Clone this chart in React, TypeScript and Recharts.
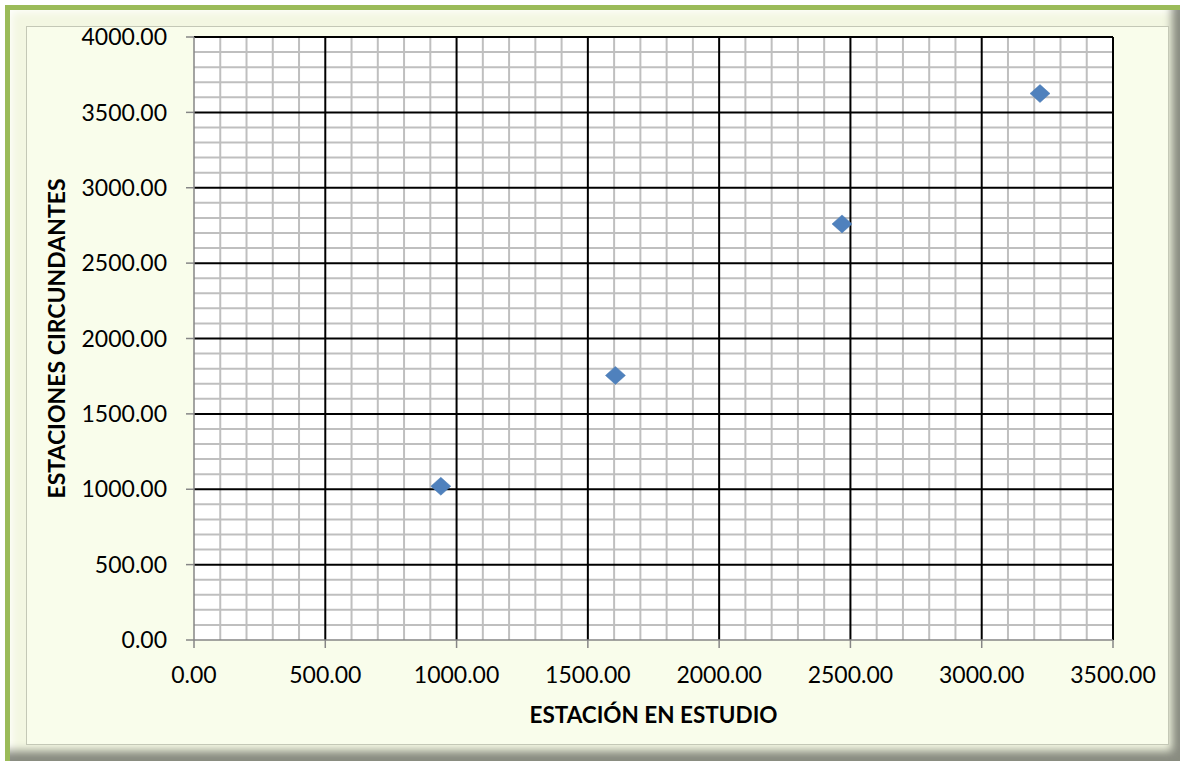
import { CartesianGrid, Scatter, ScatterChart, XAxis, YAxis } from "recharts";

// valores
const estacionEstudio = [940, 1605, 2468, 3222];
const estacionesCircundantes = [1020, 1755, 2760, 3625];

const ticksX = [0, 500, 1000, 1500, 2000, 2500, 3000, 3500];
const ticksY = [0, 500, 1000, 1500, 2000, 2500, 3000, 3500, 4000];
const menoresX = [100, 200, 300, 400, 600, 700, 800, 900, 1100, 1200, 1300, 1400, 1600, 1700, 1800, 1900, 2100, 2200, 2300, 2400, 2600, 2700, 2800, 2900, 3100, 3200, 3300, 3400];
const menoresY = [100, 200, 300, 400, 600, 700, 800, 900, 1100, 1200, 1300, 1400, 1600, 1700, 1800, 1900, 2100, 2200, 2300, 2400, 2600, 2700, 2800, 2900, 3100, 3200, 3300, 3400, 3600, 3700, 3800, 3900];

const datos = estacionEstudio.map((x, i) => ({ x, y: estacionesCircundantes[i] }));

const fuente = "Lato, 'Open Sans', sans-serif";
const fmt = (v: number) => v.toFixed(2);

function Rombo(props: any) {
  const { cx, cy } = props;
  if (cx == null || cy == null) return null;
  return (
    <path
      d={`M${cx},${cy - 9} L${cx + 10},${cy} L${cx},${cy + 9} L${cx - 10},${cy} Z`}
      fill="#4F81BD"
      stroke="#4A7AB3"
      strokeWidth={0.5}
    />
  );
}

export default function App() {
  return (
    <div style={{ position: "absolute", left: 0, top: 0, width: 1180, height: 761, background: "#fff" }}>
      <div
        style={{
          position: "absolute",
          left: 5,
          top: 5,
          width: 1175,
          height: 756,
          boxSizing: "border-box",
          background: "#F3F7E2",
          borderTop: "5px solid #9BBB59",
          borderLeft: "5px solid #9BBB59",
          boxShadow:
            "inset -12px -14px 8px -4px rgba(110,112,104,0.8), inset 6px 6px 8px -4px rgba(255,255,255,0.9)",
        }}
      />
      <div
        style={{
          position: "absolute",
          left: 26,
          top: 26,
          width: 1141,
          height: 717,
          background: "#F9FDEB",
          border: "1px solid #C4C8B6",
        }}
      />
      <div style={{ position: "absolute", left: 0, top: 0 }}>
        <ScatterChart width={1180} height={761} margin={{ top: 37, right: 67, bottom: 0, left: 0 }}>
          <CartesianGrid
            fill="#fff"
            stroke="#BFBFBF"
            strokeWidth={2}
            verticalValues={menoresX}
            horizontalValues={menoresY}
          />
          <CartesianGrid
            stroke="#000"
            strokeWidth={2}
            verticalValues={ticksX.slice(1)}
            horizontalValues={ticksY.slice(1)}
          />
          <XAxis
            type="number"
            dataKey="x"
            domain={[0, 3500]}
            ticks={ticksX}
            interval={0}
            tickFormatter={fmt}
            height={121}
            tickSize={8}
            tickMargin={19}
            axisLine={{ stroke: "#868686", strokeWidth: 1.5 }}
            tickLine={{ stroke: "#868686", strokeWidth: 1.5 }}
            tick={{ fill: "#000", fontSize: 23, fontFamily: fuente }}
            label={{
              value: "ESTACIÓN EN ESTUDIO",
              position: "insideBottom",
              offset: 38,
              style: { fill: "#000", fontSize: 22.5, fontWeight: 700, fontFamily: fuente },
            }}
          />
          <YAxis
            type="number"
            dataKey="y"
            domain={[0, 4000]}
            ticks={ticksY}
            interval={0}
            tickFormatter={fmt}
            width={194}
            tickSize={8}
            tickMargin={19}
            axisLine={{ stroke: "#868686", strokeWidth: 1.5 }}
            tickLine={{ stroke: "#868686", strokeWidth: 1.5 }}
            tick={{ fill: "#000", fontSize: 23, fontFamily: fuente }}
            label={{
              value: "ESTACIONES CIRCUNDANTES",
              angle: -90,
              position: "insideLeft",
              offset: 57,
              style: { textAnchor: "middle", fill: "#000", fontSize: 23, fontWeight: 700, fontFamily: fuente },
            }}
          />
          <Scatter data={datos} shape={<Rombo />} isAnimationActive={false} />
        </ScatterChart>
      </div>
    </div>
  );
}
